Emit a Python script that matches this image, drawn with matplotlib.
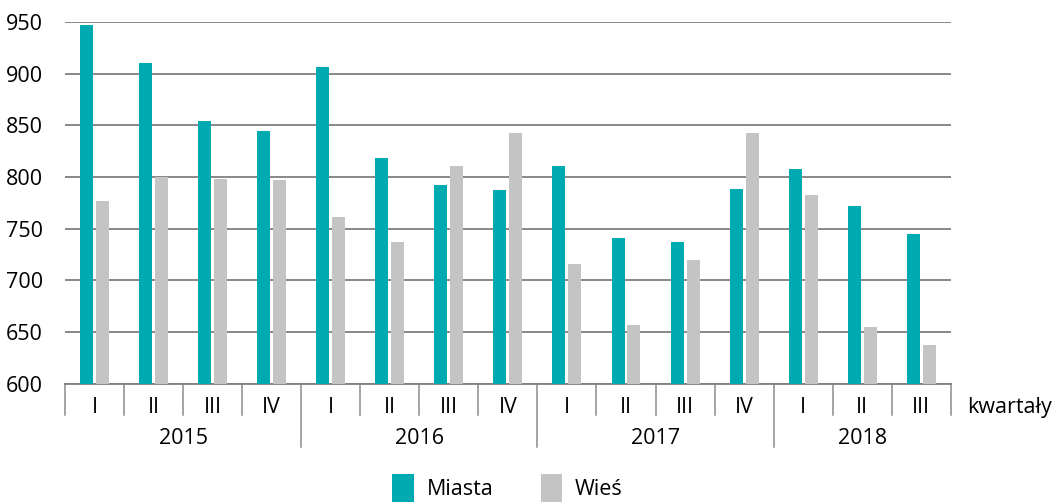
import matplotlib
matplotlib.use("Agg")
import matplotlib.pyplot as plt
import numpy as np

plt.rcParams['font.family'] = ['Open Sans', 'DejaVu Sans']

years = ['2015', '2016', '2017', '2018']
quarters = ['I', 'II', 'III', 'IV', 'I', 'II', 'III', 'IV',
            'I', 'II', 'III', 'IV', 'I', 'II', 'III']
miasta = [947, 910, 854, 845, 907, 818, 792, 787,
          811, 741, 737, 788, 808, 772, 745]
wies = [777, 800, 798, 797, 761, 737, 811, 843,
        716, 657, 720, 843, 783, 655, 637]
quarters_per_year = [4, 4, 4, 3]

teal = '#00AAB1'
grey = '#C4C4C4'

fig = plt.figure(figsize=(10.57, 5.04), dpi=100)
ax = fig.add_axes([0.0615, 0.239, 0.838, 0.717])

x = np.arange(len(quarters))
w = 0.22
ax.bar(x - 0.135, miasta, w, color=teal, label='Miasta', zorder=3)
ax.bar(x + 0.135, wies, w, color=grey, label='Wieś', zorder=3)

ax.set_xlim(-0.5, len(quarters) - 0.5)
ax.set_ylim(600, 950)
ax.set_yticks(range(600, 951, 50))
ax.yaxis.grid(True, color='#7f7f7f', linewidth=1.3, zorder=0)
ax.set_axisbelow(True)
for s in ax.spines.values():
    s.set_visible(False)
ax.tick_params(axis='y', length=0, labelsize=15.5, pad=16)
ax.set_xticks([])

trans = ax.get_xaxis_transform()
short = -0.087
long = -0.176
starts = np.cumsum([0] + quarters_per_year)
for k in range(len(quarters) + 1):
    bottom = long if (k in starts[1:-1]) else short
    ax.plot([k - 0.5, k - 0.5], [0, bottom], color='#8c8c8c', lw=1.1,
            transform=trans, clip_on=False)
ax.plot([-0.5, len(quarters) - 0.5], [0, 0], color='#7f7f7f', lw=1.3,
        transform=trans, clip_on=False)

for i, q in enumerate(quarters):
    ax.text(i, -0.065, q, transform=trans, ha='center', va='center',
            fontsize=15.5)
for j, yr in enumerate(years):
    c = (starts[j] + starts[j + 1] - 1) / 2
    ax.text(c, -0.151, yr, transform=trans, ha='center', va='center',
            fontsize=15.5)
ax.text(len(quarters) - 0.22, -0.065, 'kwartały', transform=trans,
        ha='left', va='center', fontsize=15.5)

fig.legend(loc='center', bbox_to_anchor=(0.48, 0.032), ncol=2, frameon=False,
           fontsize=15.5, handlelength=1.0, handleheight=1.6, columnspacing=2.2,
           handletextpad=0.6, borderpad=0.2)

fig.savefig('out.png', dpi=100)
